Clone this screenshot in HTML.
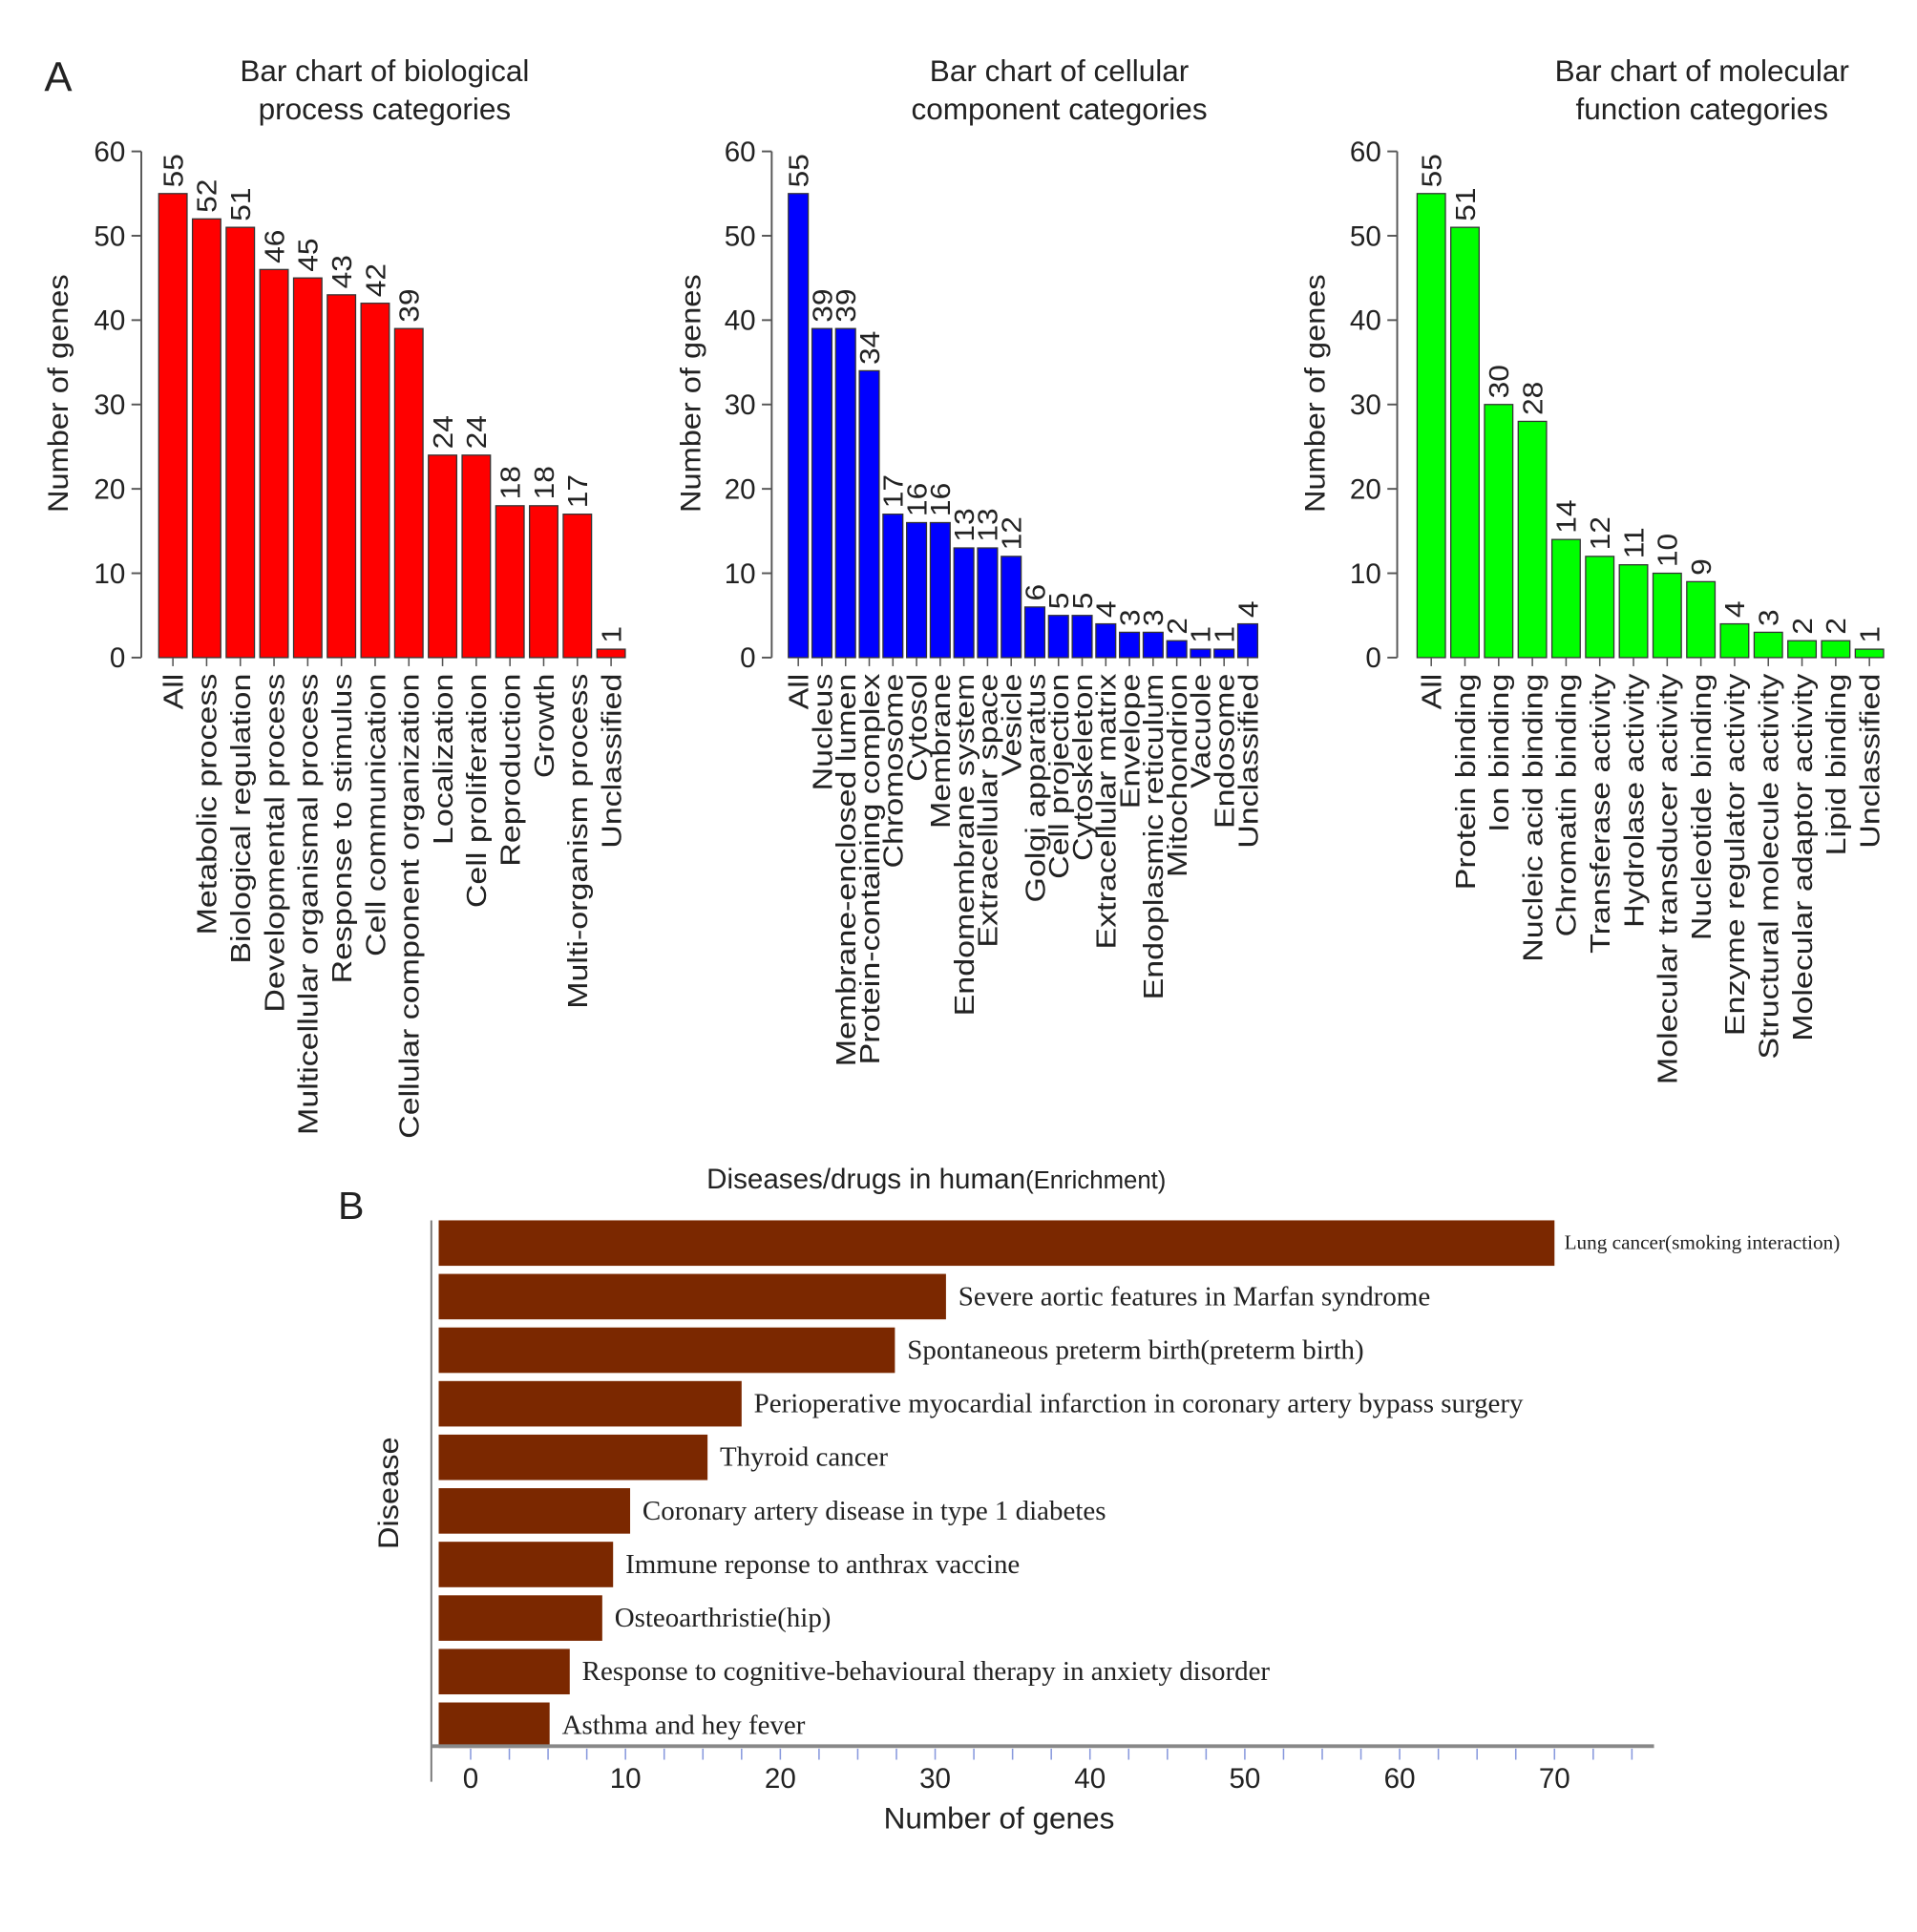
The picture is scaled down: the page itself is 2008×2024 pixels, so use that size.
<!DOCTYPE html>
<html><head><meta charset="utf-8"><style>
html,body{margin:0;padding:0;background:#fff;width:2008px;height:2024px;overflow:hidden}
svg text{font-family:"Liberation Sans",Arial,sans-serif;fill:#222}
.serif{font-family:"Liberation Serif","Times New Roman",serif !important}
</style></head><body>
<svg id="svg" width="2008" height="2024" viewBox="0 0 1560 1572" xmlns="http://www.w3.org/2000/svg">
<text x="36" y="74" font-size="34">A</text>
<text x="275" y="992" font-size="32">B</text>
<g id="c1"></g><g id="c2"></g><g id="c3"></g><g id="cb"></g>
</svg>
<script>
const bpCategories=["All","Metabolic process","Biological regulation","Developmental process","Multicellular organismal process","Response to stimulus","Cell communication","Cellular component organization","Localization","Cell proliferation","Reproduction","Growth","Multi-organism process","Unclassified"];
const bpValues=[55,52,51,46,45,43,42,39,24,24,18,18,17,1];
const ccCategories=["All","Nucleus","Membrane-enclosed lumen","Protein-containing complex","Chromosome","Cytosol","Membrane","Endomembrane system","Extracellular space","Vesicle","Golgi apparatus","Cell projection","Cytoskeleton","Extracellular matrix","Envelope","Endoplasmic reticulum","Mitochondrion","Vacuole","Endosome","Unclassified"];
const ccValues=[55,39,39,34,17,16,16,13,13,12,6,5,5,4,3,3,2,1,1,4];
const mfCategories=["All","Protein binding","Ion binding","Nucleic acid binding","Chromatin binding","Transferase activity","Hydrolase activity","Molecular transducer activity","Nucleotide binding","Enzyme regulator activity","Structural molecule activity","Molecular adaptor activity","Lipid binding","Unclassified"];
const mfValues=[55,51,30,28,14,12,11,10,9,4,3,2,2,1];
const yTicks=[0,10,20,30,40,50,60];
const diseaseNames=["Lung cancer(smoking interaction)","Severe aortic features in Marfan syndrome","Spontaneous preterm birth(preterm birth)","Perioperative myocardial infarction in coronary artery bypass surgery","Thyroid cancer","Coronary artery disease in type 1 diabetes","Immune reponse to anthrax vaccine","Osteoarthristie(hip)","Response to cognitive-behavioural therapy in anxiety disorder","Asthma and hey fever"];
const diseaseValues=[70,30.7,27.4,17.5,15.3,10.3,9.2,8.5,6.4,5.1];
const xTicksB=[0,10,20,30,40,50,60,70];

const NS="http://www.w3.org/2000/svg";
function mk(tag,attrs,parent,txt){const e=document.createElementNS(NS,tag);for(const k in attrs)e.setAttribute(k,attrs[k]);if(txt!==undefined)e.textContent=txt;parent.appendChild(e);return e;}

function barChart(gid,cats,vals,color,axisX,x0,x1,titleX,title1,title2,ylabX,prefix){
  const g=document.getElementById(gid);
  const y0=535,yTop=123,maxV=60;
  const ys=v=>y0-(v/maxV)*(y0-yTop);
  const slot=(x1-x0)/cats.length,bw=slot*0.84;
  let t=mk('text',{x:titleX,y:66,'font-size':24.5,'text-anchor':'middle'},g,title1);
  
  
  mk('text',{x:titleX,y:97,'font-size':24.5,'text-anchor':'middle'},g,title2);
  let yl=mk('text',{x:0,y:0,'font-size':23,'text-anchor':'middle',transform:`translate(${ylabX},320) rotate(-90) scale(1.1,1)`},g,'Number of genes');
  
  
  let ax=mk('line',{x1:axisX,y1:ys(0),x2:axisX,y2:ys(60),stroke:'#555','stroke-width':1.5},g);
  
  
  yTicks.forEach(v=>{
    mk('line',{x1:axisX-8,y1:ys(v),x2:axisX,y2:ys(v),stroke:'#555','stroke-width':1.5},g);
    let tl=mk('text',{x:axisX-13,y:ys(v)+8,'font-size':23,'text-anchor':'end'},g,String(v));
    
    
  });
  cats.forEach((c,i)=>{
    const cx=x0+slot*(i+0.5),v=vals[i];
    let r=mk('rect',{x:cx-bw/2,y:ys(v),width:bw,height:ys(0)-ys(v),fill:color,stroke:'#333','stroke-width':1},g);
    
    
    mk('line',{x1:cx,y1:ys(0),x2:cx,y2:ys(0)+7,stroke:'#555','stroke-width':1.2},g);
    let vl=mk('text',{x:0,y:0,'font-size':22,transform:`translate(${cx+8},${ys(v)-5}) rotate(-90) scale(1.12,1)`},g,String(v));
    
    
    let cl=mk('text',{x:0,y:0,'font-size':22,'text-anchor':'end',transform:`translate(${cx+8},${ys(0)+13}) rotate(-90) scale(1.2,1)`},g,c);
    
    
  });
}
barChart('c1',bpCategories,bpValues,'#ff0000',115,127,511,313,'Bar chart of biological','process categories',55,'bp');
barChart('c2',ccCategories,ccValues,'#0000ff',628,640,1025,862,'Bar chart of cellular','component categories',570,'cc');
barChart('c3',mfCategories,mfValues,'#00ff00',1137,1151,1535,1385,'Bar chart of molecular','function categories',1078,'mf');

(function(){
  const g=document.getElementById('cb');
  const xs=v=>383+v*12.6;
  let t=mk('text',{x:575,y:967,'font-size':23},g);
  
  
  mk('tspan',{},t,'Diseases/drugs in human');
  mk('tspan',{'font-size':20},t,'(Enrichment)');
  let yl=mk('text',{x:0,y:0,'font-size':23,'text-anchor':'middle',transform:'translate(324,1215) rotate(-90) scale(1.1,1)'},g,'Disease');
  
  
  mk('line',{x1:351,y1:993,x2:351,y2:1450,stroke:'#777','stroke-width':1.5},g);
  diseaseNames.forEach((n,i)=>{
    const y=993+i*43.6,h=37,v=diseaseValues[i];
    let r=mk('rect',{x:357,y:y,width:xs(v)-357,height:h,fill:'#7b2800'},g);
    
    
    let l=mk('text',{x:xs(v)+(i===0?8:10),y:y+h/2+(i===0?5:7),'font-size':i===0?16.5:22.5,class:'serif'},g,n);
    
    
  });
  let ax=mk('line',{x1:351,y1:1421,x2:1346,y2:1421,stroke:'#888','stroke-width':3},g);
  
  
  for(let v=0;v<=75;v+=2.5){mk('line',{x1:xs(v),y1:1423,x2:xs(v),y2:1432,stroke:'#8899dd','stroke-width':1.2},g);}
  xTicksB.forEach(v=>{
    let tl=mk('text',{x:xs(v),y:1455,'font-size':23,'text-anchor':'middle'},g,String(v));
    
    
  });
  let xl=mk('text',{x:813,y:1488,'font-size':24.5,'text-anchor':'middle'},g,'Number of genes');
  
  
})();
</script>
</body></html>
